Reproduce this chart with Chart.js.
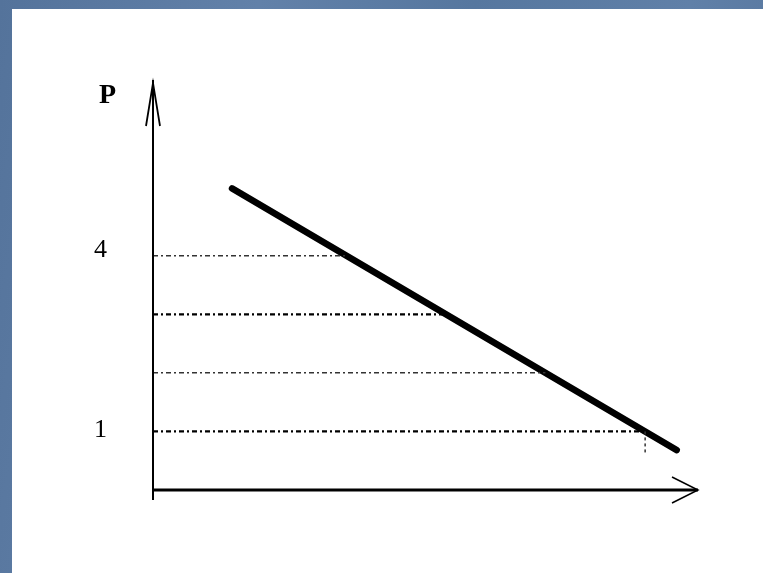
<!DOCTYPE html>
<html>
<head>
<meta charset="utf-8">
<script src="https://cdn.jsdelivr.net/npm/chart.js@4"></script>
<style>
  html, body { margin: 0; padding: 0; }
  body {
    width: 763px; height: 573px; overflow: hidden; position: relative;
    background: linear-gradient(100deg, #54739b 0%, #6281a9 30%, #56779f 55%, #6080a8 80%, #55749c 100%);
  }
  #paper { position: absolute; left: 12px; top: 9px; right: 0; bottom: 0; background: #fff; }
  #chart { position: absolute; left: 0; top: 0; }
</style>
</head>
<body>
<div id="paper"></div>
<canvas id="chart" width="763" height="573"></canvas>
<script>
// demand line (x in arbitrary units, P = price)
var lineX = [1.45, 9.61];
var lineP = [5.15, 0.68];

// dotted price levels and where they meet the line
var levelP = [4, 3, 2, 1];
var levelEndX = [3.55, 5.37, 7.20, 9.03];
var levelWidth = [1.5, 2.2, 1.5, 2.2];
var levelColor = ['#333', '#000', '#333', '#000'];

// short vertical drop under the last level
var dropX = [9.03, 9.03];
var dropP = [1, 0.6];

// tick labels drawn on the P axis
var tickValues = [4, 1];
var tickLabels = ['4', '1'];
var axisTitle = 'P';

var datasets = [];
levelP.forEach(function (p, i) {
    datasets.push({
        data: [{x: 0, y: p}, {x: levelEndX[i], y: p}],
        borderColor: levelColor[i],
        borderWidth: levelWidth[i],
        borderDash: [5, 3, 2, 3],
        pointRadius: 0
    });
});
datasets.push({
    data: dropX.map(function (x, i) { return {x: x, y: dropP[i]}; }),
    borderColor: '#333',
    borderWidth: 1.5,
    borderDash: [3, 3],
    pointRadius: 0
});
datasets.push({
    data: lineX.map(function (x, i) { return {x: x, y: lineP[i]}; }),
    borderColor: '#000',
    borderWidth: 6.5,
    borderCapStyle: 'round',
    pointRadius: 0
});

var axesPlugin = {
    id: 'axes',
    afterDatasetsDraw: function (chart) {
        var ctx = chart.ctx;
        var xs = chart.scales.x, ys = chart.scales.y;
        var x0 = xs.getPixelForValue(0), y0 = ys.getPixelForValue(0);
        var xEnd = xs.getPixelForValue(xs.max), yEnd = ys.getPixelForValue(ys.max);
        ctx.save();
        ctx.strokeStyle = '#000';
        ctx.lineCap = 'butt';

        // P axis
        ctx.lineWidth = 2;
        ctx.beginPath();
        ctx.moveTo(x0, y0 + 10);
        ctx.lineTo(x0, yEnd);
        ctx.stroke();
        ctx.lineWidth = 1.8;
        ctx.beginPath();
        ctx.moveTo(x0 - 7, yEnd + 46);
        ctx.lineTo(x0, yEnd + 3);
        ctx.lineTo(x0 + 7, yEnd + 46);
        ctx.stroke();

        // x axis
        ctx.lineWidth = 3;
        ctx.beginPath();
        ctx.moveTo(x0, y0);
        ctx.lineTo(xEnd, y0);
        ctx.stroke();
        ctx.lineWidth = 1.5;
        ctx.beginPath();
        ctx.moveTo(xEnd - 26, y0 - 13);
        ctx.lineTo(xEnd, y0);
        ctx.lineTo(xEnd - 26, y0 + 13);
        ctx.stroke();

        // labels
        ctx.fillStyle = '#000';
        ctx.textAlign = 'right';
        ctx.textBaseline = 'middle';
        ctx.font = '26px "Liberation Serif", serif';
        tickValues.forEach(function (v, i) {
            ctx.fillText(tickLabels[i], x0 - 46, ys.getPixelForValue(v) - (v === 4 ? 6 : 1));
        });
        ctx.font = 'bold 28px "Liberation Serif", serif';
        ctx.fillText(axisTitle, x0 - 37, yEnd + 16);
        ctx.restore();
    }
};

new Chart(document.getElementById('chart'), {
    type: 'line',
    data: { datasets: datasets },
    options: {
        responsive: false,
        animation: false,
        layout: { padding: { left: 153, right: 65, top: 80, bottom: 83 } },
        plugins: { legend: { display: false }, tooltip: { enabled: false } },
        scales: {
            x: { type: 'linear', min: 0, max: 10, display: false },
            y: { type: 'linear', min: 0, max: 7, display: false }
        }
    },
    plugins: [axesPlugin]
});
</script>
</body>
</html>
